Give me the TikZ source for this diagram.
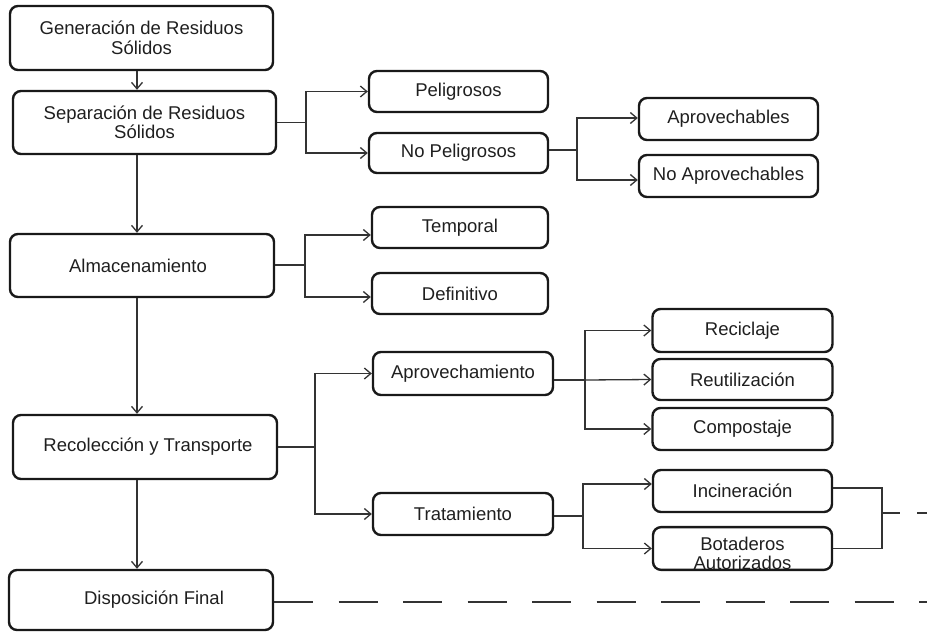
\documentclass[tikz,border=0pt]{standalone}
\usepackage{fontspec}
\setmainfont{Liberation Sans}
\usetikzlibrary{arrows.meta}
\begin{document}
\begin{tikzpicture}[x=1pt,y=-1pt,
  box/.style={draw=black!90, line width=2.4pt, rounded corners=8pt, inner sep=0pt, align=center,
    font=\fontsize{18.5}{19.5}\selectfont, text=black!88},
  con/.style={line width=1.3pt, draw=black!80},
  arr/.style={con, -{Straight Barb[length=6.5pt,width=11pt,line width=1.3pt]}},
]
\useasboundingbox (0,0) rectangle (927,632);

% main column
\node[box, minimum width=263pt, minimum height=64pt] (gen) at (141.5,38) {Generación de Residuos\\Sólidos};
\node[box, minimum width=263pt, minimum height=63pt] (sep) at (144.5,122.5) {Separación de Residuos\\Sólidos};
\node[box, minimum width=264pt, minimum height=63pt] (alm) at (142,265.5) {Almacenamiento\hspace*{8pt}};
\node[box, minimum width=264pt, minimum height=64pt] (rec) at (145,447) {\hspace*{6pt}Recolección y Transporte};
\node[box, minimum width=264pt, minimum height=60pt] (dis) at (141,600) {\hspace*{26pt}Disposición Final};

% second column
\node[box, minimum width=179pt, minimum height=41pt] (pel) at (458.5,91.5) {Peligrosos};
\node[box, minimum width=179pt, minimum height=40pt] (nop) at (458.5,153) {No Peligrosos};
\node[box, minimum width=176pt, minimum height=41pt] (tem) at (460,227.5) {Temporal};
\node[box, minimum width=176pt, minimum height=41pt] (def) at (460,293.5) {Definitivo};
\node[box, minimum width=180pt, minimum height=43pt] (apm) at (463,373.5) {Aprovechamiento};
\node[box, minimum width=180pt, minimum height=42pt] (tra) at (463,514) {Tratamiento};

% third column
\node[box, minimum width=179pt, minimum height=42pt] (apv) at (728.5,119) {Aprovechables};
\node[box, minimum width=179pt, minimum height=42pt] (noa) at (728.5,176) {No Aprovechables};
\node[box, minimum width=180pt, minimum height=43pt] (rci) at (742.5,330.5) {Reciclaje};
\node[box, minimum width=180pt, minimum height=41pt] (reu) at (742.5,379.5) {Reutilización};
\node[box, minimum width=180pt, minimum height=42pt] (com) at (742.5,429) {Compostaje};
\node[box, minimum width=179pt, minimum height=42pt] (inc) at (742.5,491) {Incineración};
\node[box, minimum width=179pt, minimum height=41pt] (bot) at (742.5,548.5) {\rule{0pt}{23pt}Botaderos\\Autorizados};

% spine
\coordinate (sx) at (137,0);
\draw[arr] (gen.south -| sx) -- (sep.north -| sx);
\draw[arr] (sep.south -| sx) -- (alm.north -| sx);
\draw[arr] (alm.south -| sx) -- (rec.north -| sx);
\draw[arr] (rec.south -| sx) -- (dis.north -| sx);

% Separacion -> Peligrosos / No Peligrosos
\coordinate (j1) at (306,122.5);
\draw[con] (sep.east) -- (j1);
\draw[arr] (j1) |- (pel.west);
\draw[arr] (j1) |- (nop.west);

% No Peligrosos -> Aprovechables / No Aprovechables
\coordinate (j2) at (577,150);
\draw[con] (nop.east |- j2) -- (j2);
\draw[arr] (j2) |- ([yshift=1pt]apv.west);
\draw[arr] (j2) |- ([yshift=-4pt]noa.west);

% Almacenamiento -> Temporal / Definitivo
\coordinate (j3) at (305,265);
\draw[con] (alm.east |- j3) -- (j3);
\draw[arr] (j3) |- ([yshift=-7.5pt]tem.west);
\draw[arr] (j3) |- ([yshift=-3.5pt]def.west);

% Recoleccion -> Aprovechamiento / Tratamiento
\coordinate (j4) at (315,447);
\draw[con] (rec.east) -- (j4);
\draw[arr] (j4) |- (apm.west);
\draw[arr] (j4) |- (tra.west);

% Aprovechamiento -> Reciclaje / Reutilizacion / Compostaje
\coordinate (j5) at (585,380);
\draw[con] (apm.east |- j5) -- (j5);
\draw[arr] (j5) |- (rci.west);
\draw[arr] (j5) -- (reu.west);
\draw[arr] (j5) |- (com.west);

% Tratamiento -> Incineracion / Botaderos
\coordinate (j6) at (583,516);
\draw[con] (tra.east |- j6) -- (j6);
\draw[arr] (j6) |- ([yshift=7pt]inc.west);
\draw[arr] (j6) |- (bot.west);

% right bracket and dashed lines
\coordinate (j7) at (882,513);
\coordinate (e1) at (927,513);
\coordinate (e2) at (927,602);
\draw[con] ([yshift=3pt]inc.east) -| (bot.east -| j7) -- (bot.east);
\draw[con, dash pattern=on 18pt off 17pt] (j7) -- (e1);
\draw[con, dash pattern=on 39pt off 25.5pt] (dis.east |- e2) -- (e2);
\end{tikzpicture}
\end{document}
